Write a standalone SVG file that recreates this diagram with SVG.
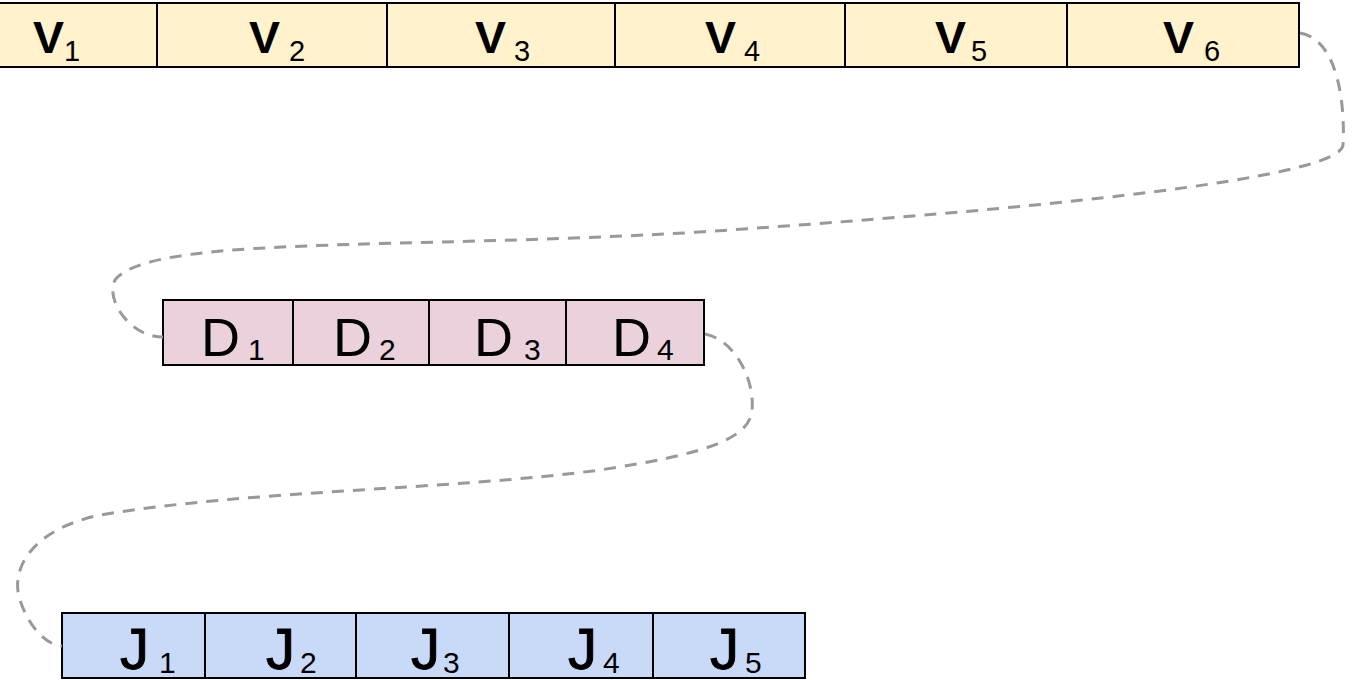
<svg xmlns="http://www.w3.org/2000/svg" width="1352" height="680" viewBox="0 0 1352 680">
<style>
.v{fill:#fff2cc;stroke:#000;stroke-width:2}
.d{fill:#ead1dc;stroke:#000;stroke-width:2}
.j{fill:#c9daf8;stroke:#000;stroke-width:2}
text{font-family:"Liberation Sans",Arial,sans-serif;fill:#000}
.bv{font-size:45px;font-weight:bold}
.bd{font-size:54px}
.bj{font-size:58px;stroke:#000;stroke-width:1}
.s{font-size:29px;font-weight:normal}
.s2{font-size:30px;font-weight:normal}
.c{fill:none;stroke:#999;stroke-width:3;stroke-dasharray:12 9}
</style>
<rect width="1352" height="680" fill="#fff"/>
<g id="V1"><rect class="v" x="-60" y="3" width="217" height="64"/><text class="bv" x="33" y="53" textLength="31" lengthAdjust="spacingAndGlyphs">V</text><text class="s" x="64" y="61">1</text></g>
<g id="V2"><rect class="v" x="157" y="3" width="230" height="64"/><text class="bv" x="249" y="53" textLength="31" lengthAdjust="spacingAndGlyphs">V</text><text class="s" x="289" y="61">2</text></g>
<g id="V3"><rect class="v" x="387" y="3" width="228" height="64"/><text class="bv" x="475" y="53" textLength="31" lengthAdjust="spacingAndGlyphs">V</text><text class="s" x="514" y="61">3</text></g>
<g id="V4"><rect class="v" x="615" y="3" width="230" height="64"/><text class="bv" x="705" y="53" textLength="31" lengthAdjust="spacingAndGlyphs">V</text><text class="s" x="744" y="61">4</text></g>
<g id="V5"><rect class="v" x="845" y="3" width="222" height="64"/><text class="bv" x="935" y="53" textLength="31" lengthAdjust="spacingAndGlyphs">V</text><text class="s" x="971" y="61">5</text></g>
<g id="V6"><rect class="v" x="1067" y="3" width="232" height="64"/><text class="bv" x="1163" y="53" textLength="31" lengthAdjust="spacingAndGlyphs">V</text><text class="s" x="1204" y="61">6</text></g>

<g id="D1"><rect class="d" x="163" y="300" width="130" height="65"/><text class="bd" x="201" y="356">D</text><text class="s2" x="248" y="360">1</text></g>
<g id="D2"><rect class="d" x="293" y="300" width="136" height="65"/><text class="bd" x="333" y="356">D</text><text class="s2" x="379" y="360">2</text></g>
<g id="D3"><rect class="d" x="429" y="300" width="137" height="65"/><text class="bd" x="474" y="356">D</text><text class="s2" x="524" y="360">3</text></g>
<g id="D4"><rect class="d" x="566" y="300" width="138" height="65"/><text class="bd" x="612" y="356">D</text><text class="s2" x="657" y="360">4</text></g>

<g id="J1"><rect class="j" x="62" y="613" width="143" height="65"/><text class="bj" x="120" y="669">J</text><text class="s2" x="159" y="673">1</text></g>
<g id="J2"><rect class="j" x="205" y="613" width="151" height="65"/><text class="bj" x="266" y="669">J</text><text class="s2" x="300" y="673">2</text></g>
<g id="J3"><rect class="j" x="356" y="613" width="153" height="65"/><text class="bj" x="411" y="669">J</text><text class="s2" x="443" y="673">3</text></g>
<g id="J4"><rect class="j" x="509" y="613" width="144" height="65"/><text class="bj" x="568" y="669">J</text><text class="s2" x="603" y="673">4</text></g>
<g id="J5"><rect class="j" x="653" y="613" width="152" height="65"/><text class="bj" x="710" y="669">J</text><text class="s2" x="745" y="673">5</text></g>

<g id="connectors">
<path class="c" d="M1300,33 C1340,40 1345,110 1343,145 C1340,175 1100,205 700,232 C400,250 150,235 115,280 C105,300 130,337 163,337"/>
<path class="c" d="M705,334 C735,340 755,380 752,410 C750,440 700,455 600,470 C450,490 250,490 100,515 C30,530 10,570 20,600 C28,625 45,645 62,646"/>
</g>
</svg>
